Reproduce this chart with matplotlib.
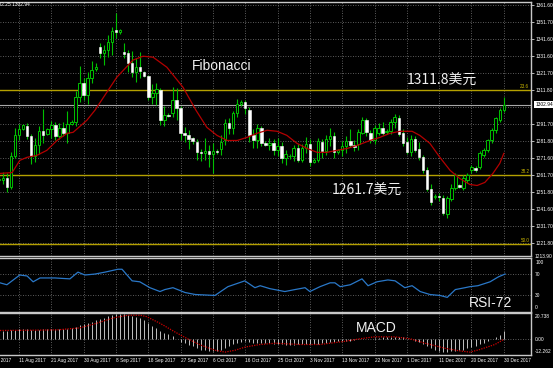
import numpy as np
import matplotlib.pyplot as plt

# daily candles, bar 0 .. 125
opens = [1258.5, 1258.8, 1260.0, 1254.5, 1273.0, 1285.0, 1288.4, 1290.2, 1284.3, 1273.0,
         1279.0, 1287.5, 1285.5, 1288.5, 1291.0, 1284.5, 1289.5, 1286.5, 1291.5, 1293.0,
         1307.5, 1316.0, 1308.5, 1318.5, 1324.0, 1337.0, 1333.5, 1335.0, 1339.8, 1347.0,
         1346.0, 1334.0, 1333.3, 1327.5, 1322.0, 1325.0, 1322.0, 1320.0, 1307.5, 1310.0,
         1311.5, 1294.0, 1297.0, 1297.9, 1305.6, 1301.0, 1286.1, 1285.0, 1283.5, 1281.0,
         1274.9, 1274.3, 1275.5, 1274.0, 1275.5, 1276.6, 1282.0, 1292.0, 1289.0, 1298.0,
         1303.5, 1304.5, 1300.0, 1285.0, 1282.0, 1289.5, 1280.5, 1279.5, 1280.5, 1276.5,
         1278.5, 1271.5, 1272.5, 1272.5, 1277.5, 1270.5, 1277.5, 1280.0, 1269.5, 1270.5,
         1281.0, 1275.5, 1283.0, 1284.5, 1275.0, 1276.5, 1278.5, 1281.5, 1279.5, 1280.0,
         1286.5, 1294.0, 1286.5, 1282.0, 1286.5, 1289.0, 1287.0, 1287.5, 1292.5, 1295.0,
         1286.5, 1281.0, 1275.0, 1283.0, 1277.0, 1272.0, 1264.3, 1253.6, 1248.5, 1249.5,
         1248.3, 1238.5, 1247.7, 1254.2, 1255.5, 1254.2, 1258.5, 1264.3, 1265.5, 1266.2,
         1273.1, 1276.1, 1281.9, 1287.9, 1294.0, 1299.7]
highs = [1259.5, 1263.5, 1263.0, 1275.0, 1289.0, 1291.5, 1291.5, 1292.0, 1286.0, 1283.5,
         1290.5, 1300.5, 1289.5, 1293.5, 1292.5, 1292.0, 1292.5, 1299.0, 1294.0, 1311.0,
         1325.5, 1318.5, 1322.0, 1328.5, 1327.5, 1339.5, 1338.0, 1344.0, 1348.5, 1357.0,
         1347.5, 1339.0, 1335.0, 1334.5, 1330.5, 1334.0, 1323.0, 1320.5, 1315.0, 1316.0,
         1313.0, 1302.0, 1298.0, 1313.5, 1312.6, 1302.0, 1290.0, 1288.0, 1284.0, 1283.0,
         1277.0, 1283.5, 1279.0, 1280.5, 1277.0, 1285.0, 1294.5, 1295.0, 1299.0, 1306.5,
         1305.5, 1306.0, 1301.5, 1288.5, 1291.5, 1290.5, 1281.5, 1283.5, 1282.5, 1283.5,
         1281.0, 1276.5, 1274.0, 1279.5, 1280.0, 1280.0, 1284.0, 1282.5, 1271.5, 1283.5,
         1283.0, 1285.0, 1289.0, 1287.0, 1277.0, 1281.5, 1284.5, 1288.5, 1282.0, 1288.5,
         1296.0, 1295.0, 1288.0, 1291.0, 1292.0, 1293.0, 1288.5, 1294.5, 1297.5, 1297.0,
         1288.5, 1284.0, 1285.0, 1284.5, 1281.0, 1273.5, 1266.0, 1256.0, 1250.5, 1251.0,
         1250.0, 1249.5, 1256.5, 1262.5, 1256.5, 1261.5, 1262.5, 1267.5, 1267.0, 1275.5,
         1277.5, 1283.0, 1289.0, 1296.0, 1301.0, 1307.5]
lows = [1257.5, 1256.0, 1251.5, 1253.5, 1271.5, 1282.0, 1288.0, 1282.5, 1268.0, 1269.5,
        1274.0, 1280.5, 1285.0, 1283.5, 1282.0, 1283.0, 1284.5, 1280.5, 1291.0, 1290.5,
        1304.5, 1305.5, 1303.5, 1316.0, 1323.0, 1330.5, 1326.5, 1331.0, 1332.0, 1342.0,
        1344.5, 1330.5, 1322.0, 1319.0, 1316.5, 1318.5, 1319.0, 1306.0, 1303.5, 1302.5,
        1291.0, 1290.5, 1295.5, 1295.5, 1293.8, 1282.0, 1281.0, 1277.0, 1280.0, 1270.5,
        1270.0, 1270.5, 1266.0, 1262.5, 1274.0, 1273.5, 1279.0, 1286.0, 1286.0, 1296.0,
        1302.0, 1297.5, 1281.0, 1277.5, 1277.5, 1278.5, 1278.5, 1276.0, 1273.5, 1273.0,
        1268.5, 1267.5, 1271.0, 1270.0, 1269.0, 1269.0, 1274.5, 1267.0, 1268.5, 1269.5,
        1271.5, 1273.5, 1278.5, 1271.5, 1274.0, 1272.5, 1274.5, 1278.0, 1275.5, 1276.5,
        1285.5, 1284.5, 1280.5, 1280.0, 1285.0, 1285.0, 1286.0, 1286.0, 1289.5, 1284.5,
        1278.5, 1274.0, 1273.0, 1275.0, 1270.5, 1263.0, 1252.0, 1244.0, 1247.5, 1246.5,
        1238.0, 1236.5, 1246.0, 1252.5, 1254.0, 1253.0, 1257.0, 1263.0, 1263.5, 1265.0,
        1272.0, 1275.0, 1280.5, 1286.5, 1293.0, 1298.5]
closes = [1258.8, 1260.0, 1254.5, 1273.0, 1285.0, 1288.4, 1290.8, 1284.3, 1273.0, 1279.0,
          1287.5, 1285.0, 1288.5, 1291.0, 1284.5, 1289.5, 1286.5, 1291.5, 1293.0, 1307.5,
          1316.0, 1308.5, 1318.5, 1323.5, 1325.0, 1333.5, 1335.0, 1339.8, 1346.5, 1345.5,
          1347.0, 1332.5, 1327.5, 1322.0, 1325.0, 1322.5, 1320.0, 1307.5, 1310.0, 1312.0,
          1294.0, 1296.7, 1296.5, 1305.6, 1301.0, 1286.1, 1285.0, 1283.0, 1281.5, 1275.0,
          1274.3, 1275.5, 1274.0, 1275.5, 1275.0, 1280.8, 1292.0, 1289.0, 1298.0, 1303.5,
          1304.5, 1301.0, 1285.0, 1282.0, 1289.5, 1280.5, 1279.5, 1280.5, 1276.5, 1278.5,
          1271.5, 1274.0, 1272.5, 1277.5, 1270.5, 1277.5, 1280.0, 1269.5, 1270.5, 1281.5,
          1275.5, 1283.0, 1284.5, 1275.0, 1276.5, 1278.5, 1281.5, 1279.5, 1278.0, 1287.0,
          1294.0, 1287.0, 1282.0, 1289.0, 1289.5, 1286.5, 1287.5, 1293.0, 1295.5, 1286.0,
          1280.2, 1275.0, 1283.0, 1276.5, 1272.0, 1264.3, 1253.6, 1245.5, 1249.5, 1248.5,
          1239.0, 1248.3, 1254.2, 1261.3, 1254.5, 1260.1, 1261.3, 1266.2, 1264.5, 1274.3,
          1276.1, 1281.9, 1287.9, 1294.9, 1299.7, 1302.9]

# red moving average (read at sample bars)
ma_x = [0.3, 3.3, 5.2, 7, 9.4, 11.9, 14.4, 16.9, 18.4, 21.8, 23.8, 29.2, 33.2, 35.7, 38.2,
        41.6, 45.6, 48.8, 51.5, 54, 56.5, 59, 61.4, 63.9, 66.4, 68.9, 71.3, 73.8, 76.3, 78.8,
        81.2, 83.7, 86.2, 88.7, 91.9, 94.3, 96.8, 99.3, 102.3, 104.2, 106.7, 109.2, 111.7,
        114.1, 116.6, 118.4, 120.3, 122.3, 124, 125]
ma_y = [1262.5, 1263.0, 1270.2, 1272.0, 1273.1, 1276.1, 1281.9, 1286.1, 1286.7, 1293.8,
        1299.7, 1319.1, 1329.2, 1331.5, 1330.9, 1325.0, 1313.2, 1299.7, 1289.6, 1284.9,
        1281.9, 1281.9, 1283.7, 1286.1, 1287.9, 1287.3, 1284.9, 1280.2, 1277.2, 1274.9,
        1274.9, 1276.1, 1277.2, 1279.0, 1281.9, 1283.7, 1286.1, 1287.3, 1287.3, 1284.9,
        1280.2, 1271.9, 1264.3, 1259.5, 1256.0, 1255.4, 1257.2, 1262.5, 1268.4, 1274.3]

rsi_x = [0.3, 2, 5.2, 7, 8.5, 10.2, 13.9, 17.6, 19.6, 21.3, 23.8, 26.3, 29.5, 30.5, 33,
         34.9, 37.4, 39.9, 41.1, 43.1, 46.1, 48.6, 53.5, 56.7, 60.9, 63.4, 64.7, 67.1, 70.8,
         73.3, 75.8, 77, 79.5, 82, 83.2, 84.5, 87, 89.9, 91.4, 93.6, 96.3, 98.1, 100.5,
         102.3, 104.3, 106.7, 109.2, 111, 113, 115.4, 116.6, 118.6, 121.6, 123.6, 125.3]
rsi_y = [53.6, 50.0, 68.2, 66.4, 55.5, 62.7, 62.7, 61.0, 73.6, 68.2, 70.0, 73.6, 79.0, 79.0,
         57.3, 55.5, 44.5, 37.3, 41.0, 44.5, 35.5, 31.8, 30.0, 46.4, 57.3, 44.5, 48.2, 42.7,
         37.3, 41.0, 44.5, 37.3, 46.4, 53.6, 53.6, 46.4, 50.0, 61.0, 48.2, 55.5, 59.0, 57.3,
         44.5, 48.2, 37.3, 31.8, 30.0, 26.4, 41.0, 44.5, 46.4, 48.2, 55.5, 64.5, 70.0]

macd_hist = [6.5, 6.8, 6.5, 7.0, 7.5, 8.0, 8.2, 8.0, 7.5, 7.2, 7.5,
             7.8, 7.8, 8.0, 8.0, 8.0, 8.0, 8.3, 8.6, 10.0, 11.0,
             12.0, 13.0, 14.0, 15.0, 16.0, 17.0, 18.0, 19.0, 20.0, 20.3,
             20.0, 19.5, 18.5, 17.5, 16.5, 15.0, 12.5, 10.5, 9.0, 6.5,
             5.0, 4.0, 2.5, 0.0, -2.0, -3.0, -4.5, -5.5, -6.5, -8.0,
             -8.5, -9.0, -9.5, -9.0, -8.0, -7.0, -5.5, -4.0, -3.0, -2.0,
             -1.5, -2.0, -2.5, -2.5, -3.0, -3.0, -3.0, -3.5, -3.5, -4.0,
             -4.5, -4.5, -4.5, -4.0, -4.0, -3.5, -4.0, -4.0, -3.5, -3.0,
             -2.5, -2.0, -2.0, -1.5, -1.5, -1.0, -1.0, -0.5, 0.5, 0.5,
             0.5, 0.5, 1.0, 1.0, 1.5, 1.5, 1.5, 2.0, 2.0, 1.5,
             0.5, 0.0, -1.0, -2.0, -3.5, -5.0, -6.5, -8.0, -9.0, -10.0,
             -10.0, -9.5, -9.0, -8.5, -8.0, -7.0, -6.0, -5.0, -4.0, -3.0,
             -1.5, 0.0, 1.5, 3.5, 6.5]
sig_x = [0.3, 8, 14.5, 20, 23.5, 28.5, 32, 35, 36.5, 40, 43.5, 47, 50, 53.5, 56, 58.5, 61,
         64.7, 68.4, 74.5, 79.5, 82, 85.7, 89.4, 93, 98, 101.8, 105.5, 110.5, 114, 116.6,
         119, 122.8, 125]
sig_y = [7.0, 7.2, 7.5, 9.0, 12.0, 17.0, 19.0, 19.0, 18.0, 12.5, 6.0, 0.0, -4.5, -8.5, -10.0,
         -8.5, -6.0, -4.0, -3.0, -4.0, -4.0, -3.0, -1.5, 0.5, 2.0, 2.0, 0.5, -3.0, -7.0, -9.0,
         -10.0, -8.0, -4.0, 0.0]

price_ticks = [1361.60, 1351.70, 1341.60, 1331.60, 1321.70, 1311.80, 1301.70, 1291.70,
               1281.80, 1271.60, 1261.70, 1251.80, 1241.60, 1231.70, 1221.80]
fib_levels = [1311.8, 1261.7, 1221.2]
fib_names = ['23.6', '38.2', '50.0']
last_price = 1302.94
date_pos = [-3, 5, 13, 21, 29, 37, 45, 53, 61, 69, 77, 85, 93, 101, 109, 117, 125]
date_labels = ['2 Aug 2017', '11 Aug 2017', '21 Aug 2017', '30 Aug 2017', '8 Sep 2017',
               '18 Sep 2017', '27 Sep 2017', '6 Oct 2017', '16 Oct 2017', '25 Oct 2017',
               '3 Nov 2017', '13 Nov 2017', '22 Nov 2017', '1 Dec 2017', '11 Dec 2017',
               '20 Dec 2017', '30 Dec 2017']

W, H = 553, 368
GREEN = '#00c000'
GRID = '#7a7a7a'
BORDER = '#c8c8c8'
SMALL = 'Liberation Sans'
cjk = ['Noto Sans CJK SC', 'DejaVu Sans']

fig = plt.figure(figsize=(W / 100, H / 100), dpi=100, facecolor='black')


def box(top, bottom):
    return [0, 1 - bottom / H, 531 / W, (bottom - top) / H]


ax = fig.add_axes(box(2, 256))
ax_rsi = fig.add_axes(box(258, 311.5), sharex=ax)
ax_macd = fig.add_axes(box(313, 355), sharex=ax)

for a in (ax, ax_rsi, ax_macd):
    a.set_facecolor('black')
    for s in ('top', 'bottom', 'right'):
        a.spines[s].set_color(BORDER)
        a.spines[s].set_linewidth(1)
    a.spines['left'].set_visible(False)
    a.tick_params(axis='x', bottom=False, labelbottom=False)
    for p in date_pos:
        a.axvline(p, color=GRID, lw=0.6, ls=(0, (1, 2)), zorder=0)

ax.set_xlim(0.297, 131.73)

# ---- price panel
ax.set_ylim(1213.9, 1363.4)
ax.yaxis.tick_right()
ax.set_yticks([t for t in price_ticks if t != 1301.70])
ax.set_yticklabels(['%.2f' % t for t in price_ticks if t != 1301.70], family=SMALL)
ax.tick_params(axis='y', colors='white', labelsize=3.5, length=2, width=0.5, pad=1)
for t in price_ticks:
    ax.axhline(t, color=GRID, lw=0.6, ls=(0, (1, 2)), zorder=0)
ax.text(1.006, 1213.9, '1213.90', transform=ax.get_yaxis_transform(), color='white',
        fontsize=3.5, family=SMALL, va='center', ha='left', clip_on=False)

for lev, name in zip(fib_levels, fib_names):
    ax.axhline(lev, color='#b4a000', lw=1, zorder=1)
    ax.text(0.997, lev + 0.4, name, transform=ax.get_yaxis_transform(), color='#c8b400',
            fontsize=3.3, family=SMALL, ha='right', va='bottom')

ax.axhline(last_price, color='#a8a8a8', lw=0.8, zorder=1)
ax.text(1.008, last_price, '%.2f' % last_price, transform=ax.get_yaxis_transform(),
        color='black', fontsize=3.5, family=SMALL, va='center', ha='left', clip_on=False,
        bbox=dict(facecolor='white', edgecolor='none', pad=0.6))

idx = np.arange(len(closes))
o = np.array(opens)
c = np.array(closes)
up = c >= o
body_lo = np.minimum(o, c)
body_h = np.maximum(np.abs(c - o), 0.5)
ax.vlines(idx, lows, highs, color=GREEN, lw=0.8, zorder=2)
ax.bar(idx[up], body_h[up], bottom=body_lo[up], width=0.62, facecolor='black',
       edgecolor=GREEN, linewidth=0.7, zorder=3)
ax.bar(idx[~up], body_h[~up], bottom=body_lo[~up], width=0.62, facecolor='white',
       edgecolor='white', linewidth=0.4, zorder=3)
ax.plot(ma_x, ma_y, color='#b40000', lw=0.9, zorder=4)

# ---- RSI panel
ax_rsi.set_ylim(0, 100)
ax_rsi.set_yticks([])
for lev in (70, 30):
    ax_rsi.axhline(lev, color=GRID, lw=0.6, ls=(0, (1, 2)), zorder=0)
ax_rsi.plot(rsi_x, rsi_y, color='#2a78c8', lw=0.9)
tr = ax_rsi.get_yaxis_transform()
kw = dict(transform=tr, color='white', fontsize=3.5, family=SMALL, clip_on=False)
ax_rsi.text(1.008, 97, '100', va='top', **kw)
ax_rsi.text(1.008, 70, '70', va='center', **kw)
ax_rsi.text(1.008, 30, '30', va='center', **kw)
ax_rsi.text(1.008, 3, '0', va='bottom', **kw)

# ---- MACD panel
ax_macd.set_ylim(-12.262, 20.738)
ax_macd.set_yticks([])
ax_macd.axhline(0, color=GRID, lw=0.6, ls=(0, (1, 2)), zorder=0)
ax_macd.vlines(idx, 0, macd_hist, color='#c0c0c0', lw=0.7)
ax_macd.plot(sig_x, sig_y, color='#d00000', lw=0.9, ls=(0, (1, 1)))
tr = ax_macd.get_yaxis_transform()
kw = dict(transform=tr, color='white', fontsize=3.5, family=SMALL, clip_on=False)
ax_macd.text(1.008, 20.2, '20.738', va='top', **kw)
ax_macd.text(1.008, 0, '0.00', va='center', **kw)
ax_macd.text(1.008, -11.8, '-12.262', va='bottom', **kw)

for p, lab in zip(date_pos, date_labels):
    ax_macd.text(p, -0.14, lab, transform=ax_macd.get_xaxis_transform(), color='white',
                 fontsize=3.4, family=SMALL, ha='left', va='center', clip_on=False)


# ---- annotations
def px(x, y):
    return x / W, 1 - y / H


fig.text(*px(30, 5), '1302.25 1302.94', color='white', fontsize=3.5, family=SMALL,
         ha='right', va='center')
fig.text(*px(192, 70), 'Fibonacci', color='#f0f0f0', fontsize=10, family=SMALL,
         ha='left', va='baseline')
fig.text(*px(407, 85), '1311.8美元', color='#f0f0f0', fontsize=10, ha='left',
         va='baseline', family=cjk)
fig.text(*px(332, 195), '1261.7美元', color='#f0f0f0', fontsize=10, ha='left',
         va='baseline', family=cjk)
fig.text(*px(469, 307), 'RSI-72', color='#f0f0f0', fontsize=10, family=SMALL,
         ha='left', va='baseline')
fig.text(*px(356, 332), 'MACD', color='#f0f0f0', fontsize=10, family=SMALL,
         ha='left', va='baseline')

fig.savefig('out.png', dpi=100, facecolor='black')
